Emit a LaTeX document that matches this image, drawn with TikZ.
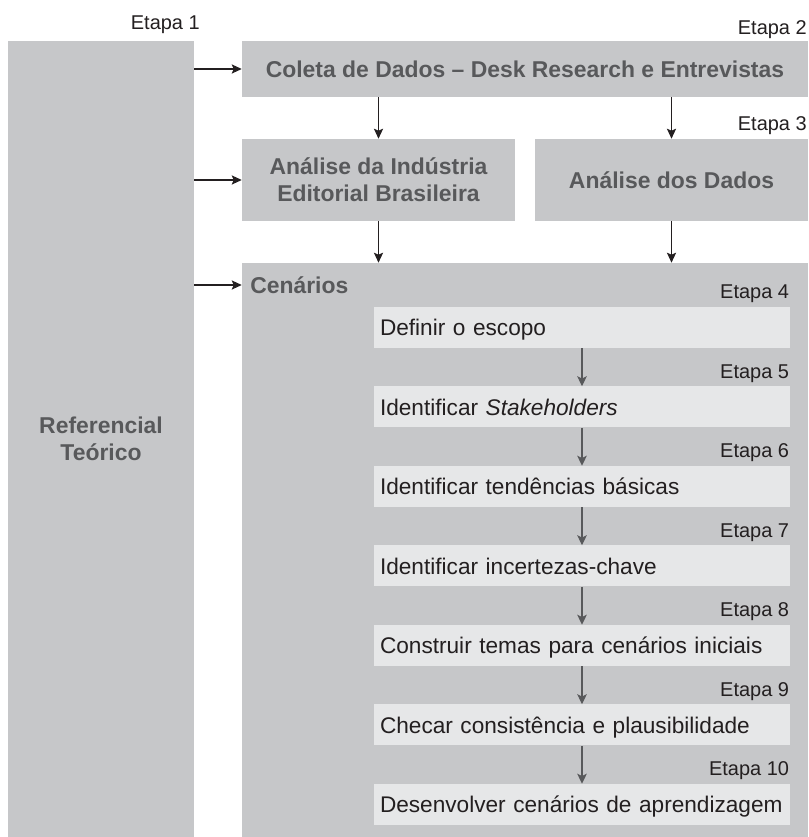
\documentclass[tikz,border=0pt]{standalone}
\usepackage{fontspec}
\setmainfont{Liberation Sans}
\usetikzlibrary{arrows.meta,positioning}
\definecolor{boxgrey}{RGB}{198,199,201}
\definecolor{stepgrey}{RGB}{230,231,232}
\definecolor{titlegrey}{RGB}{88,89,91}
\definecolor{inkdark}{RGB}{35,31,32}

\begin{document}
\begin{tikzpicture}[x=1cm,y=1cm,outer/.style={fill=boxgrey,draw=none,inner sep=0pt,align=center,text=titlegrey,font=\fontsize{16.3}{19.5}\selectfont\bfseries},oneline/.style={text height=11.7pt,text depth=0pt},stepbox/.style={fill=stepgrey,draw=none,minimum width=10.4cm,minimum height=1.025cm,text width=10.1cm,inner xsep=.15cm,inner ysep=0pt,align=left,text=inkdark,text height=11.5pt,text depth=0pt,font=\fontsize{16.1}{19.5}\selectfont},etapa/.style={anchor=east,inner sep=0pt,text=inkdark,text height=10.2pt,text depth=0pt,font=\fontsize{14.2}{17}\selectfont},topar/.style={-{Stealth[length=2.5mm,width=2.3mm,inset=.5mm]},line width=.75pt,draw=inkdark},stepar/.style={-{Stealth[length=2.5mm,width=2.4mm,inset=.6mm]},line width=.85pt,draw=titlegrey}]

\useasboundingbox(0,0)rectangle(20.2,20.925);
% Left column and the two upper rows
\node[outer,minimum width=4.65cm,minimum height=19.9cm](ref)at(2.525,9.95){Referencial\\Teórico};
\node[outer,oneline,minimum width=14.15cm,minimum height=1.4cm](coleta)at(13.125,19.2){Coleta de Dados – Desk Research e Entrevistas};
\node[outer,minimum width=6.825cm,minimum height=2.05cm](ind)at(9.4625,16.425){Análise da Indústria\\Editorial Brasileira};
\node[outer,oneline,minimum width=6.825cm,minimum height=2.05cm](dados)at(16.7875,16.425){Análise dos Dados};
\node[outer,minimum width=14.15cm,minimum height=14.35cm](cen)at(13.125,7.175){};
\node[outer,oneline,fill=none,anchor=west](centit)at(6.25,13.8){Cenários};
\node[etapa](et1)at(5.0,20.375){Etapa 1};
\node[etapa](et2)at(20.175,20.25){Etapa 2};
\node[etapa](et3)at(20.175,17.85){Etapa 3};
\draw[topar](ref.east|-coleta)--(coleta);
\draw[topar](ref.east|-ind)--(ind);
\draw[topar](ref.east|-centit)--(cen.west|-centit);
\draw[topar](coleta.south-|ind)--(ind);
\draw[topar](coleta.south-|dados)--(dados);
\draw[topar](ind)--(ind|-cen.north);
\draw[topar](dados)--(dados|-cen.north);
% Steps 4 to 10 inside the scenario block
\foreach \n/\txt/\e in {1/{Definir o escopo}/4,2/{Identificar \textit{Stakeholders}}/5,3/{Identificar tendências básicas}/6,4/{Identificar incertezas-chave}/7,5/{Construir temas para cenários iniciais}/8,6/{Checar consistência e plausibilidade}/9,7/{Desenvolver cenários de aprendizagem}/10}{
 \node[stepbox](s\n)at(14.55,{14.725-\n*1.9875}){\txt};
 \node[etapa](e\n)at([shift={(-.025,.375)}]s\n.north east){Etapa \e};
}
\foreach \a [evaluate=\a as \b using int(\a+1)] in {1,...,6}{
 \draw[stepar](s\a)--(s\b);
}
\end{tikzpicture}
\end{document}
